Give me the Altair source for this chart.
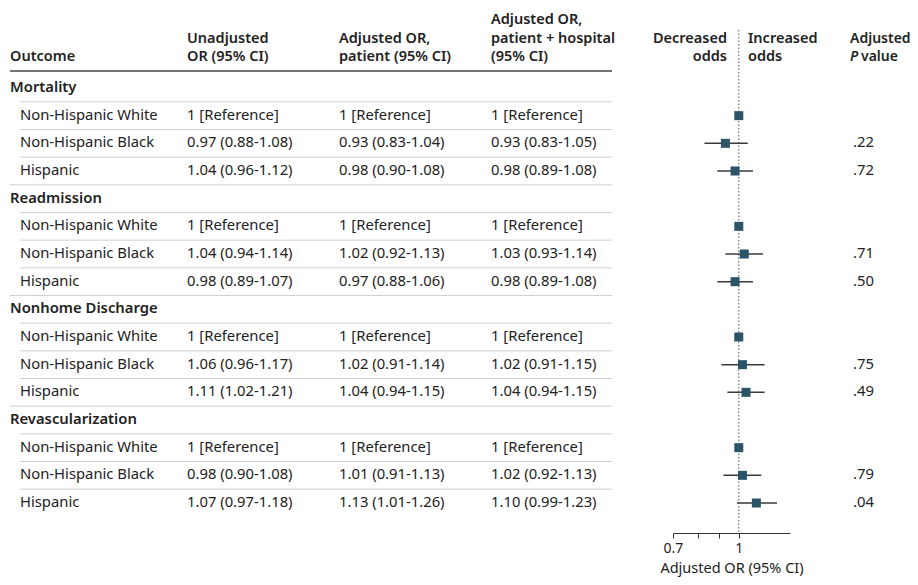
import altair as alt
import pandas as pd

outcomes = ["Mortality", "Readmission", "Nonhome Discharge", "Revascularization"]
groups = ["Non-Hispanic White", "Non-Hispanic Black", "Hispanic"]

unadjusted = [
    ["1 [Reference]", "0.97 (0.88-1.08)", "1.04 (0.96-1.12)"],
    ["1 [Reference]", "1.04 (0.94-1.14)", "0.98 (0.89-1.07)"],
    ["1 [Reference]", "1.06 (0.96-1.17)", "1.11 (1.02-1.21)"],
    ["1 [Reference]", "0.98 (0.90-1.08)", "1.07 (0.97-1.18)"],
]
adj_patient = [
    ["1 [Reference]", "0.93 (0.83-1.04)", "0.98 (0.90-1.08)"],
    ["1 [Reference]", "1.02 (0.92-1.13)", "0.97 (0.88-1.06)"],
    ["1 [Reference]", "1.02 (0.91-1.14)", "1.04 (0.94-1.15)"],
    ["1 [Reference]", "1.01 (0.91-1.13)", "1.13 (1.01-1.26)"],
]
adj_hospital = [
    ["1 [Reference]", "0.93 (0.83-1.05)", "0.98 (0.89-1.08)"],
    ["1 [Reference]", "1.03 (0.93-1.14)", "0.98 (0.89-1.08)"],
    ["1 [Reference]", "1.02 (0.91-1.15)", "1.04 (0.94-1.15)"],
    ["1 [Reference]", "1.02 (0.92-1.13)", "1.10 (0.99-1.23)"],
]
or_est = [[1.0, 0.93, 0.98], [1.0, 1.03, 0.98], [1.0, 1.02, 1.04], [1.0, 1.02, 1.10]]
or_lo = [[None, 0.83, 0.89], [None, 0.93, 0.89], [None, 0.91, 0.94], [None, 0.92, 0.99]]
or_hi = [[None, 1.05, 1.08], [None, 1.14, 1.08], [None, 1.15, 1.15], [None, 1.13, 1.23]]
p_values = [["", ".22", ".72"], ["", ".71", ".50"], ["", ".75", ".49"], ["", ".79", ".04"]]

header_outcome = ["Outcome"]
header_unadj = ["Unadjusted", "OR (95% CI)"]
header_adj_pat = ["Adjusted OR,", "patient (95% CI)"]
header_adj_hosp = ["Adjusted OR,", "patient + hospital", "(95% CI)"]
header_dec = ["Decreased", "odds"]
header_inc = ["Increased", "odds"]
header_p = ["Adjusted", "P", "value"]
axis_title = "Adjusted OR (95% CI)"

axis_values = [0.7, 0.8, 0.9, 1.0]
ref_value = [1.0]

# ---- build table ----
records = []
row = 0
for gi, out in enumerate(outcomes):
    records.append(dict(row=row, label=out, kind="group", c1="", c2="", c3="",
                        est=None, lo=None, hi=None, p="", last=False))
    row += 1
    for si, g in enumerate(groups):
        records.append(dict(row=row, label=g, kind="sub",
                            c1=unadjusted[gi][si], c2=adj_patient[gi][si], c3=adj_hospital[gi][si],
                            est=or_est[gi][si], lo=or_lo[gi][si], hi=or_hi[gi][si],
                            p=p_values[gi][si], last=(si == len(groups) - 1)))
        row += 1
df = pd.DataFrame(records)
n_rows = len(df)

seps = []
for r in records[:-1]:
    seps.append(dict(sep=r["row"] + 0.5, indent=not (r["kind"] == "sub" and r["last"])))
sep_df = pd.DataFrame(seps)

FONT = "Noto Sans"
TXT = "#222222"
FS = 14.8
HFS = 14.5
HW = 600
LH = 18.5
LAST = 49  # centre of the last header line

yscale = alt.Scale(domain=[0, n_rows - 1], range=[80, 495], nice=False, zero=False)
xscale = alt.Scale(type="log", domain=[0.7, 1.32], range=[665, 782], nice=False)
xaxis = alt.Axis(values=axis_values, grid=False,
                 labelExpr="datum.value == 0.7 ? '0.7' : (datum.value == 1 ? '1' : '')",
                 title=axis_title, domainColor="#333333", tickColor="#333333",
                 tickSize=5, labelFontSize=14, labelColor=TXT, labelPadding=3,
                 titleFontSize=14.5, titleFontWeight="normal", titleColor=TXT, titlePadding=6,
                 labelFont=FONT, titleFont=FONT, labelFlush=False)

base = alt.Chart(df)
Y = alt.Y("row:Q", scale=yscale, axis=None)

def col_text(field, xpos, kind=None, weight="normal", align="left"):
    ch = base
    if kind is not None:
        ch = ch.transform_filter(alt.datum.kind == kind)
    return ch.mark_text(align=align, baseline="middle", font=FONT, fontSize=FS,
                        fontWeight=weight, color=TXT).encode(
        x=alt.value(xpos), y=Y, text=f"{field}:N")

group_lbl = col_text("label", 2, kind="group", weight=HW)
sub_lbl = col_text("label", 12, kind="sub")
c1 = col_text("c1", 179)
c2 = col_text("c2", 331)
c3 = col_text("c3", 483)
pv = col_text("p", 845)

# separators
sep_in = alt.Chart(sep_df).transform_filter(alt.datum.indent).mark_rule(
    color="#cfcfcf", strokeWidth=1).encode(
    y=alt.Y("sep:Q", scale=yscale, axis=None), x=alt.value(12), x2=alt.value(604))
sep_out = alt.Chart(sep_df).transform_filter(~alt.datum.indent).mark_rule(
    color="#cfcfcf", strokeWidth=1).encode(
    y=alt.Y("sep:Q", scale=yscale, axis=None), x=alt.value(2), x2=alt.value(604))

# header (multi-line text blocks; first line sits at y)
one = pd.DataFrame({"a": [0]})

def header(lines, xx, align="left", size=HFS, style="normal"):
    n = len(lines)
    y_first = LAST - (n - 1) * LH
    txt = lines if n > 1 else lines[0]
    return alt.Chart(one).mark_text(
        align=align, baseline="middle", font=FONT, fontSize=size, fontWeight=HW,
        fontStyle=style, color=TXT, lineHeight=LH
    ).encode(x=alt.value(xx), y=alt.value(y_first), text=alt.value(txt))

header_layers = [
    header(header_outcome, 2),
    header(header_unadj, 179),
    header(header_adj_pat, 331),
    header(header_adj_hosp, 483),
    header(header_dec, 719, align="right"),
    header(header_inc, 740),
    alt.Chart(one).mark_text(align="left", baseline="middle", font=FONT, fontSize=14,
                             fontWeight=HW, color=TXT).encode(
        x=alt.value(842), y=alt.value(LAST - LH), text=alt.value(header_p[0])),
    alt.Chart(one).mark_text(align="left", baseline="middle", font=FONT, fontSize=14,
                             fontWeight=HW, fontStyle="italic", color=TXT).encode(
        x=alt.value(842), y=alt.value(LAST), text=alt.value(header_p[1])),
    alt.Chart(one).mark_text(align="left", baseline="middle", font=FONT, fontSize=14,
                             fontWeight=HW, color=TXT).encode(
        x=alt.value(853), y=alt.value(LAST), text=alt.value(header_p[2])),
]

header_rule = alt.Chart(one).mark_rule(color="#444444", strokeWidth=1.5).encode(
    x=alt.value(2), x2=alt.value(604), y=alt.value(63))

# forest
ref_line = alt.Chart(pd.DataFrame({"v": ref_value})).mark_rule(
    color="#555555", strokeDash=[1.5, 2], strokeWidth=1).encode(
    x=alt.X("v:Q", scale=xscale, axis=xaxis), y=alt.value(22), y2=alt.value(525))

ci = base.transform_filter("isValid(datum.lo)").mark_rule(color="#3a3a3a", strokeWidth=1.5).encode(
    x=alt.X("lo:Q", scale=xscale, axis=xaxis), x2="hi:Q", y=Y)

pts = base.transform_filter("isValid(datum.est)").mark_square(
    size=81, color="#2b5566", opacity=1).encode(
    x=alt.X("est:Q", scale=xscale, axis=xaxis), y=Y)

chart = alt.layer(
    sep_in, sep_out, header_rule, *header_layers,
    group_lbl, sub_lbl, c1, c2, c3, pv,
    ref_line, ci, pts,
).properties(
    width=902, height=525,
    autosize=alt.AutoSizeParams(type="none"),
    padding={"left": 0, "top": 0, "right": 0, "bottom": 44},
).configure(font=FONT).configure_view(strokeWidth=0, stroke=None)

chart.save("out.html", embed_options={"renderer": "svg", "actions": False})
